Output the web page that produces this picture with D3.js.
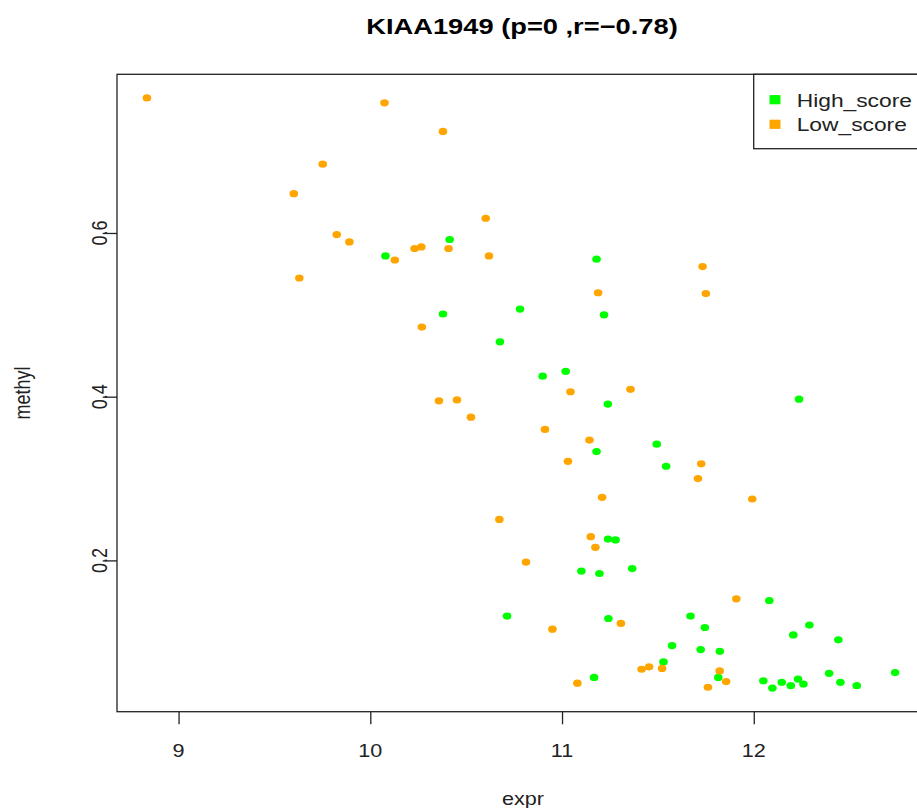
<!DOCTYPE html>
<html><head><meta charset="utf-8">
<script src="https://cdn.jsdelivr.net/npm/d3@7"></script>
<style>html,body{margin:0;padding:0;background:#fff;}svg{display:block;}</style>
</head><body>
<script>
const title = "KIAA1949 (p=0 ,r=\u22120.78)";
const xLabel = "expr";
const yLabel = "methyl";
const seriesNames = ["High_score", "Low_score"];
const seriesColors = ["#00FF00", "#FFA500"];
const xTicks = [9, 10, 11, 12];
const yTicks = [0.2, 0.4, 0.6];

const highX = [10.079,10.414,11.180,10.379,10.781,11.219,10.676,10.899,11.019,11.239,11.494,11.180,11.543,11.240,11.279,11.101,11.195,11.366,10.713,11.242,11.574,11.529,11.167,12.081,11.670,11.745,11.723,11.823,11.815,12.050,12.097,12.146,12.193,12.231,12.259,12.206,12.290,12.441,12.393,12.452,12.537,12.737,12.236];
const highY = [0.572,0.592,0.568,0.501,0.507,0.500,0.467,0.425,0.431,0.391,0.342,0.333,0.315,0.226,0.225,0.187,0.184,0.190,0.132,0.129,0.096,0.076,0.057,0.151,0.132,0.118,0.091,0.089,0.057,0.053,0.044,0.051,0.047,0.055,0.049,0.109,0.121,0.103,0.062,0.051,0.047,0.063,0.397];
const lowX = [8.835,10.074,10.379,9.752,9.601,9.825,9.891,10.128,9.630,10.408,10.231,10.266,10.602,10.619,11.188,10.269,11.044,11.357,10.358,10.452,10.525,10.911,11.143,11.031,11.209,10.673,11.150,11.174,10.812,10.950,11.307,11.415,11.454,11.522,11.080,11.726,11.709,11.992,11.909,11.822,11.856,11.761,11.733,11.750];
const lowY = [0.765,0.759,0.724,0.684,0.648,0.598,0.589,0.567,0.545,0.581,0.581,0.583,0.618,0.572,0.527,0.485,0.406,0.409,0.395,0.396,0.375,0.360,0.347,0.321,0.277,0.250,0.229,0.216,0.198,0.116,0.123,0.067,0.070,0.068,0.050,0.318,0.300,0.275,0.153,0.065,0.052,0.045,0.559,0.526];

const W = 917, H = 808;
const box = {left: 117, right: 925, top: 74.3, bottom: 711.7};
const SX = 1.2; // horizontal stretch of the original raster
const font = "'Liberation Sans', Arial, sans-serif";

const allX = highX.concat(lowX), allY = highY.concat(lowY);
function pad(ext){ const s = ext[1]-ext[0]; return [ext[0]-0.04*s, ext[1]+0.04*s]; }
const x = d3.scaleLinear().domain(pad(d3.extent(allX))).range([box.left, box.right]);
const y = d3.scaleLinear().domain(pad(d3.extent(allY))).range([box.bottom, box.top]);

const svg = d3.select("body").append("svg").attr("width", W).attr("height", H)
  .style("font-family", font);

// title
svg.append("text").attr("transform", `translate(522,34) scale(1.24,1)`)
  .attr("text-anchor","middle").attr("font-size",22).attr("font-weight","bold")
  .attr("fill","#000").text(title);

// points
const series = [
  {name: seriesNames[0], color: seriesColors[0], xs: highX, ys: highY},
  {name: seriesNames[1], color: seriesColors[1], xs: lowX, ys: lowY}
];
series.forEach(s => {
  svg.append("g").selectAll("ellipse").data(s.xs.map((v,i)=>[v, s.ys[i]])).join("ellipse")
    .attr("cx", d => x(d[0])).attr("cy", d => y(d[1]))
    .attr("rx", 4.3).attr("ry", 3.6).attr("fill", s.color);
});

// axes (tick marks via d3.axis, labels placed from the same scales)
const xAxis = svg.append("g").attr("transform", `translate(0,${box.bottom})`)
  .call(d3.axisBottom(x).tickValues(xTicks).tickSize(12.6).tickFormat(() => ""));
xAxis.select(".domain").remove();
xAxis.selectAll("line").attr("stroke","#222").attr("stroke-width",1.3);
svg.append("g").selectAll("text").data(xTicks).join("text")
  .attr("transform", d => `translate(${x(d)},${box.bottom + 45}) scale(${SX},1)`)
  .attr("text-anchor","middle").attr("font-size",18).attr("fill","#222")
  .text(d3.format("d"));

const yAxis = svg.append("g").attr("transform", `translate(${box.left},0)`)
  .call(d3.axisLeft(y).tickValues(yTicks).tickSize(14.3).tickFormat(() => ""));
yAxis.select(".domain").remove();
yAxis.selectAll("line").attr("stroke","#222").attr("stroke-width",1.3);
svg.append("g").selectAll("text").data(yTicks).join("text")
  .attr("transform", d => `translate(${box.left - 10},${y(d)}) scale(${SX},1) rotate(-90)`)
  .attr("text-anchor","middle").attr("font-size",18).attr("fill","#222")
  .text(d3.format(".1f"));

// box
svg.append("rect").attr("x",box.left).attr("y",box.top)
  .attr("width",box.right-box.left).attr("height",box.bottom-box.top)
  .attr("fill","none").attr("stroke","#222").attr("stroke-width",1.3);

// axis labels
svg.append("text").attr("transform", `translate(523,805) scale(${SX},1)`)
  .attr("text-anchor","middle").attr("font-size",18).attr("fill","#222").text(xLabel);
svg.append("text").attr("transform", `translate(30,393) scale(${SX},1) rotate(-90)`)
  .attr("text-anchor","middle").attr("font-size",18).attr("fill","#222").text(yLabel);

// legend
const lg = svg.append("g");
lg.append("rect").attr("x",753.7).attr("y",box.top).attr("width",200).attr("height",148.7-box.top)
  .attr("fill","#fff").attr("stroke","#222").attr("stroke-width",1.3);
series.forEach((s,i) => {
  const cy = 99.7 + i*24.6;
  lg.append("rect").attr("x",769.5).attr("y",cy-4.6).attr("width",11).attr("height",9.2).attr("fill",s.color);
  lg.append("text").attr("transform", `translate(796.7,${cy+7}) scale(${SX},1)`)
    .attr("font-size",19).attr("fill","#222").text(s.name);
});
</script>
</body></html>
